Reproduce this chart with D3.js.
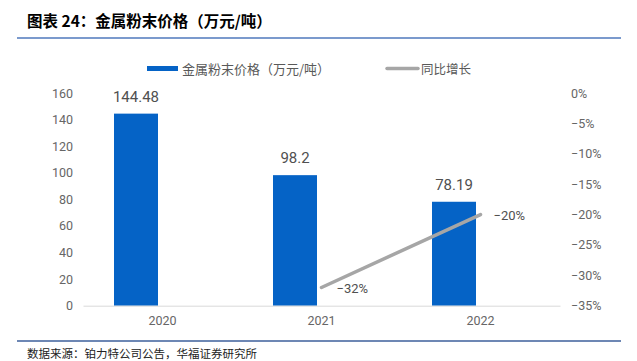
<!DOCTYPE html>
<html>

<head>
    <meta charset="utf-8">
    <script src="https://d3js.org/d3.v7.min.js"></script>
    <style>
        body {
            margin: 0;
            background: #fff;
        }

        text {
            font-family: "Noto Sans CJK SC", "Noto Sans", sans-serif;
        }
    </style>
</head>

<body>
    <div id="chart"></div>

    <script>
        // data
        var years = ["2020", "2021", "2022"];
        var prices = [144.48, 98.2, 78.19];
        var priceLabels = ["144.48", "98.2", "78.19"];
        var growth = [null, -32, -20];
        var growthLabels = ["", "\u221232%", "\u221220%"];
        var leftTicks = [0, 20, 40, 60, 80, 100, 120, 140, 160];
        var rightTicks = [0, -5, -10, -15, -20, -25, -30, -35];

        var W = 637, H = 361;
        var plot = { left: 83, right: 560, top: 93, bottom: 305.7 };

        var svg = d3.select("#chart")
            .append("svg")
            .attr("width", W)
            .attr("height", H);

        // title + rules
        svg.append("text")
            .attr("x", 27).attr("y", 27)
            .attr("font-size", 15.5).attr("font-weight", "bold")
            .attr("fill", "#000")
            .text("图表 24：金属粉末价格（万元/吨）");
        svg.append("line")
            .attr("x1", 17).attr("x2", 621).attr("y1", 38).attr("y2", 38)
            .attr("stroke", "#4f79bd").attr("stroke-width", 1.5);
        svg.append("line")
            .attr("x1", 17).attr("x2", 621).attr("y1", 341).attr("y2", 341)
            .attr("stroke", "#3d5f9b").attr("stroke-width", 1.5);
        svg.append("text")
            .attr("x", 27).attr("y", 358)
            .attr("font-size", 11.5).attr("fill", "#222")
            .text("数据来源：铂力特公司公告，华福证券研究所");

        // scales
        var x = d3.scaleBand()
            .domain(years)
            .range([plot.left, plot.right]);
        var y = d3.scaleLinear()
            .domain([0, 160])
            .range([plot.bottom, plot.top]);
        var y2 = d3.scaleLinear()
            .domain([-35, 0])
            .range([plot.bottom, plot.top]);

        var barW = 44, barShift = -26.5;
        function barCenter(d) { return x(d) + x.bandwidth() / 2 + barShift; }

        // left axis
        svg.append("g")
            .attr("transform", "translate(" + (plot.left - 10) + ",0)")
            .call(d3.axisLeft(y).tickValues(leftTicks).tickSize(0).tickPadding(0))
            .call(function (g) { g.select(".domain").remove(); })
            .selectAll("text")
            .attr("font-size", 12.5).attr("fill", "#666")
            .style("font-family", "Roboto, 'Noto Sans', sans-serif");

        // right axis
        svg.append("g")
            .attr("transform", "translate(" + (plot.right + 11) + ",0)")
            .call(d3.axisRight(y2).tickValues(rightTicks).tickSize(0).tickPadding(0)
                .tickFormat(function (d) { return (d < 0 ? "\u2212" + (-d) : d) + "%"; }))
            .call(function (g) { g.select(".domain").remove(); })
            .selectAll("text")
            .attr("font-size", 12.5).attr("fill", "#666")
            .style("font-family", "Roboto, 'Noto Sans', sans-serif");

        // bars
        svg.selectAll("rect.bar")
            .data(prices)
            .enter()
            .append("rect")
            .attr("class", "bar")
            .attr("x", function (d, i) { return barCenter(years[i]) - barW / 2; })
            .attr("y", function (d) { return y(d); })
            .attr("width", barW)
            .attr("height", function (d) { return y(0) - y(d); })
            .attr("fill", "#0563c6");

        svg.selectAll("text.blab")
            .data(prices)
            .enter()
            .append("text")
            .attr("class", "blab")
            .attr("x", function (d, i) { return barCenter(years[i]); })
            .attr("y", function (d) { return y(d) - 12; })
            .attr("text-anchor", "middle")
            .attr("font-size", 15).attr("fill", "#505050")
            .style("font-family", "Roboto, 'Noto Sans', sans-serif")
            .text(function (d, i) { return priceLabels[i]; });

        // x axis line + labels
        svg.append("g")
            .attr("transform", "translate(0," + plot.bottom + ")")
            .call(d3.axisBottom(x).tickSize(0).tickPadding(10))
            .call(function (g) {
                g.select(".domain").attr("stroke", "#d9d9d9").attr("stroke-width", 1);
            })
            .selectAll("text")
            .attr("font-size", 12.5).attr("fill", "#666")
            .style("font-family", "Roboto, 'Noto Sans', sans-serif");

        // growth line (secondary axis)
        var pts = years.map(function (d, i) { return { year: d, v: growth[i], lab: growthLabels[i] }; })
            .filter(function (d) { return d.v !== null; });
        var line = d3.line()
            .x(function (d) { return x(d.year) + x.bandwidth() / 2; })
            .y(function (d) { return y2(d.v); });
        svg.append("path")
            .datum(pts)
            .attr("d", line)
            .attr("fill", "none")
            .attr("stroke", "#a6a6a6")
            .attr("stroke-width", 3.5)
            .attr("stroke-linecap", "round");

        svg.selectAll("text.glab")
            .data(pts)
            .enter()
            .append("text")
            .attr("class", "glab")
            .attr("x", function (d, i) { return x(d.year) + x.bandwidth() / 2 + (i == 0 ? 15 : 13); })
            .attr("y", function (d, i) { return y2(d.v) + (i == 0 ? 6 : 5); })
            .attr("font-size", 13).attr("fill", "#505050")
            .style("font-family", "Roboto, 'Noto Sans', sans-serif")
            .text(function (d) { return d.lab; });

        // legend
        var lg = svg.append("g");
        lg.append("rect")
            .attr("x", 147).attr("y", 66).attr("width", 31).attr("height", 5)
            .attr("fill", "#0563c6");
        lg.append("text")
            .attr("x", 182).attr("y", 73.5)
            .attr("font-size", 13).attr("fill", "#595959")
            .text("金属粉末价格（万元/吨）");
        lg.append("line")
            .attr("x1", 387).attr("x2", 418).attr("y1", 68.5).attr("y2", 68.5)
            .attr("stroke", "#a6a6a6").attr("stroke-width", 3.5)
            .attr("stroke-linecap", "round");
        lg.append("text")
            .attr("x", 421).attr("y", 73.5)
            .attr("font-size", 12.5).attr("fill", "#595959")
            .text("同比增长");
    </script>
</body>

</html>
